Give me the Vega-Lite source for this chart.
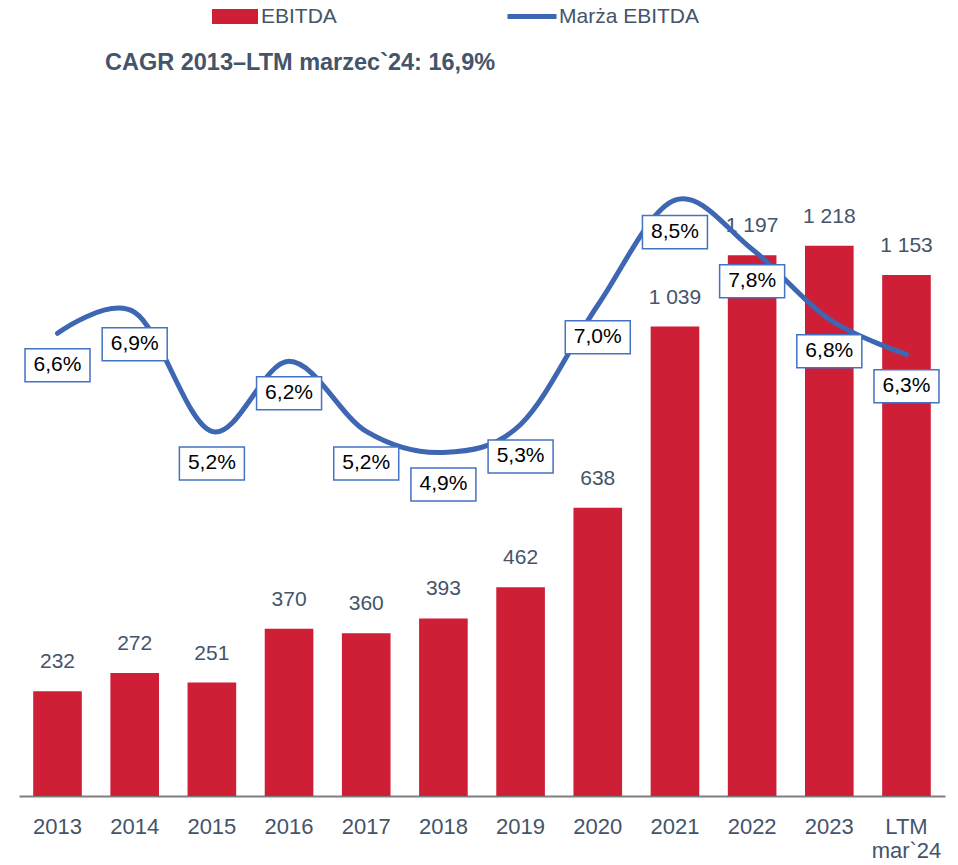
{
  "$schema": "https://vega.github.io/schema/vega-lite/v6.json",
  "width": 926,
  "height": 680,
  "autosize": "none",
  "padding": {"left": 19, "top": 116, "right": 13, "bottom": 69},
  "background": "white",
  "title": {
    "text": "CAGR 2013–LTM marzec`24: 16,9%",
    "anchor": "start",
    "frame": "group",
    "orient": "top",
    "offset": 0,
    "dy": 104,
    "dx": 86,
    "baseline": "alphabetic",
    "fontSize": 23.5,
    "fontWeight": "bold",
    "font": "Liberation Sans",
    "color": "#44546A"
  },
  "data": {
    "values": [
      {"year": "2013", "ebitda": 232, "margin": 0.066},
      {"year": "2014", "ebitda": 272, "margin": 0.069},
      {"year": "2015", "ebitda": 251, "margin": 0.052},
      {"year": "2016", "ebitda": 370, "margin": 0.062},
      {"year": "2017", "ebitda": 360, "margin": 0.052},
      {"year": "2018", "ebitda": 393, "margin": 0.049},
      {"year": "2019", "ebitda": 462, "margin": 0.053},
      {"year": "2020", "ebitda": 638, "margin": 0.070},
      {"year": "2021", "ebitda": 1039, "margin": 0.085},
      {"year": "2022", "ebitda": 1197, "margin": 0.078},
      {"year": "2023", "ebitda": 1218, "margin": 0.068},
      {"year": "LTM mar`24", "ebitda": 1153, "margin": 0.063}
    ]
  },
  "encoding": {
    "x": {
      "field": "year",
      "type": "nominal",
      "sort": null,
      "scale": {"paddingInner": 0.37, "paddingOuter": 0.184},
      "axis": {
        "title": null,
        "labelAngle": 0,
        "ticks": false,
        "tickSize": 0,
        "labelPadding": 20,
        "labelFontSize": 22,
        "labelFont": "Liberation Sans",
        "labelColor": "#44546A",
        "labelLineHeight": 24,
        "labelBaseline": "top",
        "domainColor": "#7F7F7F",
        "domainWidth": 2,
        "grid": false,
        "labelExpr": "datum.value == 'LTM mar`24' ? ['LTM', 'mar`24'] : datum.value"
      }
    }
  },
  "layer": [
    {
      "encoding": {
        "y": {
          "field": "ebitda",
          "type": "quantitative",
          "scale": {"domain": [0, 1505], "nice": false, "zero": true},
          "axis": null
        }
      },
      "layer": [
        {
          "mark": {"type": "bar"},
          "encoding": {
            "fill": {
              "datum": "EBITDA",
              "scale": {"domain": ["EBITDA"], "range": ["#CE1F37"]},
              "legend": {
                "orient": "none",
                "legendX": 193,
                "legendY": -122.5,
                "title": null,
                "padding": 0,
                "symbolType": "M-1,-0.33H1V0.33H-1Z",
                "symbolSize": 2116,
                "symbolStrokeWidth": 0,
                "labelFontSize": 21,
                "labelFont": "Liberation Sans",
                "labelColor": "#44546A",
                "labelOffset": 3
              }
            }
          }
        },
        {
          "mark": {
            "type": "text",
            "baseline": "alphabetic",
            "dy": -23,
            "fontSize": 21,
            "font": "Liberation Sans",
            "color": "#44546A"
          },
          "encoding": {
            "text": {"field": "ebitda", "type": "quantitative", "format": ",d"}
          }
        }
      ]
    },
    {
      "encoding": {
        "y": {
          "field": "margin",
          "type": "quantitative",
          "scale": {"domain": [0, 0.097], "nice": false, "zero": true},
          "axis": null
        }
      },
      "layer": [
        {
          "mark": {
            "type": "line",
            "interpolate": "cardinal",
            "strokeWidth": 5,
            "strokeCap": "round"
          },
          "encoding": {
            "stroke": {
              "datum": "Marża EBITDA",
              "scale": {"domain": ["Marża EBITDA"], "range": ["#3D66B3"]},
              "legend": {
                "orient": "none",
                "legendX": 486,
                "legendY": -126.5,
                "title": null,
                "padding": 0,
                "symbolType": "stroke",
                "symbolSize": 2401,
                "symbolStrokeWidth": 5,
                "labelFontSize": 21,
                "labelFont": "Liberation Sans",
                "labelColor": "#44546A",
                "labelOffset": 0
              }
            }
          }
        },
        {
          "mark": {
            "type": "point",
            "shape": "M-1,-0.508H1V0.508H-1Z",
            "size": 4225,
            "filled": false,
            "fill": "white",
            "fillOpacity": 1,
            "stroke": "#4472C4",
            "strokeWidth": 1.5,
            "opacity": 1,
            "yOffset": 32
          }
        },
        {
          "mark": {
            "type": "text",
            "baseline": "middle",
            "yOffset": 32,
            "fontSize": 21,
            "font": "Liberation Sans",
            "color": "black"
          },
          "encoding": {
            "text": {"field": "margin", "type": "quantitative", "format": ".1%"}
          }
        }
      ]
    }
  ],
  "resolve": {"scale": {"y": "independent"}},
  "config": {
    "view": {"stroke": null},
    "font": "Liberation Sans",
    "locale": {
      "number": {
        "decimal": ",",
        "thousands": " ",
        "grouping": [3],
        "currency": ["", " zł"]
      }
    }
  }
}
